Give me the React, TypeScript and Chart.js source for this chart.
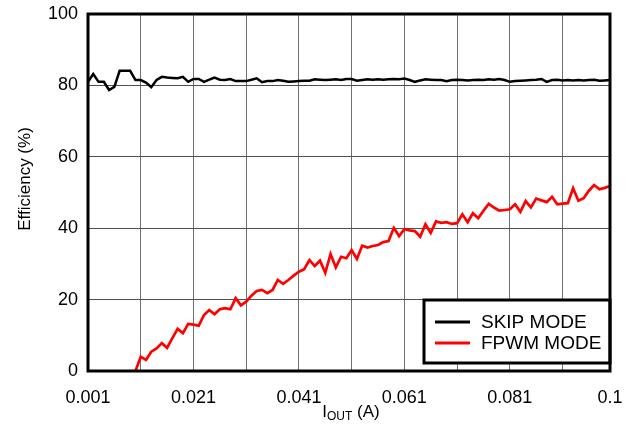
import React, { useEffect, useRef } from 'react';
import { Chart, registerables } from 'chart.js';

Chart.register(...registerables);

// Output current in mA (converted to A for the axis)
const currentMA = [
  1, 2, 3, 4, 5, 6, 7, 8, 9, 10,
  11, 12, 13, 14, 15, 16, 17, 18, 19, 20,
  21, 22, 23, 24, 25, 26, 27, 28, 29, 30,
  31, 32, 33, 34, 35, 36, 37, 38, 39, 40,
  41, 42, 43, 44, 45, 46, 47, 48, 49, 50,
  51, 52, 53, 54, 55, 56, 57, 58, 59, 60,
  61, 62, 63, 64, 65, 66, 67, 68, 69, 70,
  71, 72, 73, 74, 75, 76, 77, 78, 79, 80,
  81, 82, 83, 84, 85, 86, 87, 88, 89, 90,
  91, 92, 93, 94, 95, 96, 97, 98, 99, 100,
];

const skipMode = [
  81.0, 83.2, 81.0, 81.0, 78.7, 79.6, 84.1, 84.1, 84.1, 81.5,
  81.5, 80.8, 79.5, 81.5, 82.4, 82.2, 82.1, 82.0, 82.4, 81.0,
  81.8, 81.8, 81.0, 81.6, 82.2, 81.6, 81.5, 81.8, 81.2, 81.2,
  81.2, 81.6, 82.0, 80.9, 81.2, 81.2, 81.5, 81.3, 81.0, 81.1,
  81.2, 81.3, 81.3, 81.7, 81.6, 81.5, 81.6, 81.7, 81.5, 81.8,
  81.8, 81.3, 81.5, 81.7, 81.6, 81.7, 81.6, 81.7, 81.8, 81.7,
  81.9, 81.5, 81.0, 81.4, 81.7, 81.6, 81.5, 81.5, 81.2, 81.5,
  81.6, 81.5, 81.4, 81.5, 81.6, 81.5, 81.7, 81.6, 81.8, 81.5,
  81.0, 81.2, 81.3, 81.4, 81.5, 81.6, 81.8, 81.0, 81.5, 81.6,
  81.4, 81.5, 81.4, 81.5, 81.4, 81.5, 81.6, 81.3, 81.4, 81.5,
];

const fpwmMode: (number | null)[] = [
  null, null, null, null, null, null, null, null, null, 0.0,
  4.0, 3.1, 5.4, 6.3, 7.8, 6.5, 9.2, 11.8, 10.6, 13.2,
  13.0, 12.7, 15.7, 17.1, 15.9, 17.3, 17.6, 17.3, 20.4, 18.4,
  19.4, 21.1, 22.4, 22.7, 21.8, 22.7, 25.5, 24.4, 25.5, 26.7,
  27.8, 28.5, 31.1, 29.4, 30.9, 27.5, 32.8, 29.0, 32.0, 31.6,
  33.9, 31.4, 35.1, 34.6, 35.0, 35.3, 36.1, 36.4, 40.1, 37.8,
  39.7, 39.4, 39.2, 37.6, 41.1, 38.7, 41.9, 41.5, 41.7, 41.2,
  41.4, 43.9, 41.7, 44.2, 42.8, 44.9, 46.8, 45.8, 44.9, 45.1,
  45.3, 46.7, 44.6, 47.6, 45.8, 48.3, 47.8, 47.3, 48.8, 46.7,
  46.9, 47.0, 51.2, 47.7, 48.4, 50.5, 52.1, 50.9, 51.3, 51.8,
];

const xGridValues = [0.001, 0.011, 0.021, 0.031, 0.041, 0.051, 0.061, 0.071, 0.081, 0.091, 0.1];
const xTickLabels = ['0.001', '0.021', '0.041', '0.061', '0.081', '0.1'];
const yTickValues = [0, 20, 40, 60, 80, 100];

const seriesNames = ['SKIP MODE', 'FPWM MODE'];
const seriesColors = ['#000000', '#ff0000'];

const FONT = "'Liberation Sans', Arial, sans-serif";

const overlayPlugin = {
  id: 'overlay',
  afterDraw(chart: any) {
    const { ctx, chartArea } = chart;
    const { left, right, top, bottom } = chartArea;
    ctx.save();
    // legend box
    const lx = 424, ly = 300, lw = right - 424, lh = 63;
    ctx.fillStyle = '#fff';
    ctx.fillRect(lx, ly, lw, lh);
    ctx.strokeStyle = '#000';
    ctx.lineWidth = 3;
    ctx.strokeRect(lx, ly, lw, lh);
    ctx.font = `19px ${FONT}`;
    ctx.textBaseline = 'middle';
    ctx.textAlign = 'left';
    const rows = [322, 343];
    seriesNames.forEach((name, i) => {
      ctx.strokeStyle = seriesColors[i];
      ctx.lineWidth = 3;
      ctx.beginPath();
      ctx.moveTo(435, rows[i]);
      ctx.lineTo(470, rows[i]);
      ctx.stroke();
      ctx.fillStyle = '#000';
      ctx.fillText(name, 481, rows[i] + 1);
    });
    // frame
    ctx.strokeStyle = '#000';
    ctx.lineWidth = 3;
    ctx.strokeRect(left, top, right - left, bottom - top);
    // y title
    ctx.fillStyle = '#000';
    ctx.save();
    ctx.translate(25, 179);
    ctx.rotate(-Math.PI / 2);
    ctx.font = `17px ${FONT}`;
    ctx.textAlign = 'center';
    ctx.textBaseline = 'middle';
    ctx.fillText('Efficiency (%)', 0, 0);
    ctx.restore();
    // x title with subscript
    const big = `17px ${FONT}`;
    const small = `12px ${FONT}`;
    ctx.textBaseline = 'alphabetic';
    ctx.textAlign = 'left';
    ctx.font = big;
    const wI = ctx.measureText('I').width;
    const wRest = ctx.measureText(' (A)').width;
    ctx.font = small;
    const wSub = ctx.measureText('OUT').width;
    const total = wI + wSub + wRest;
    let x = (left + right) / 2 - total / 2 + 2;
    const base = 417;
    ctx.font = big;
    ctx.fillText('I', x, base);
    x += wI;
    ctx.font = small;
    ctx.fillText('OUT', x, base + 3);
    x += wSub;
    ctx.font = big;
    ctx.fillText(' (A)', x, base);
    ctx.restore();
  },
};

export default function App() {
  const canvasRef = useRef<HTMLCanvasElement>(null);

  useEffect(() => {
    const canvas = canvasRef.current;
    if (!canvas) return;
    const toA = (m: number) => m / 1000;
    const chart = new Chart(canvas, {
      type: 'line',
      data: {
        datasets: [
          {
            label: seriesNames[0],
            data: currentMA.map((m, i) => ({ x: toA(m), y: skipMode[i] })),
            borderColor: seriesColors[0],
            borderWidth: 2.5,
            pointRadius: 0,
            tension: 0,
          },
          {
            label: seriesNames[1],
            data: currentMA
              .map((m, i) => ({ x: toA(m), y: fpwmMode[i] }))
              .filter((p) => p.y !== null) as any,
            borderColor: seriesColors[1],
            borderWidth: 2.7,
            pointRadius: 0,
            tension: 0,
          },
        ],
      },
      options: {
        animation: false,
        responsive: false,
        maintainAspectRatio: false,
        layout: { autoPadding: false, padding: { top: 14, right: 24, left: 0, bottom: 0 } },
        plugins: {
          legend: { display: false },
          tooltip: { enabled: false },
        },
        scales: {
          x: {
            type: 'linear',
            min: 0.001,
            max: 0.1,
            afterBuildTicks: (scale: any) => {
              scale.ticks = xGridValues.map((v) => ({ value: v }));
            },
            afterFit: (scale: any) => {
              scale.height = 56;
              scale.paddingLeft = 0;
              scale.paddingRight = 0;
              scale.paddingTop = 0;
              scale.paddingBottom = 0;
            },
            ticks: {
              autoSkip: false,
              maxRotation: 0,
              padding: 16,
              color: '#000',
              font: { family: FONT, size: 18 },
              callback: (v: any) => {
                const s = xTickLabels.find((l) => Math.abs(parseFloat(l) - Number(v)) < 1e-9);
                return s ?? '';
              },
            },
            grid: { color: '#707070', lineWidth: 1, drawTicks: false },
            border: { display: false },
          },
          y: {
            min: 0,
            max: 100,
            afterBuildTicks: (scale: any) => {
              scale.ticks = yTickValues.map((v) => ({ value: v }));
            },
            afterFit: (scale: any) => {
              scale.width = 88;
              scale.paddingLeft = 0;
              scale.paddingRight = 0;
              scale.paddingTop = 0;
              scale.paddingBottom = 0;
            },
            ticks: {
              padding: 10,
              color: '#000',
              font: { family: FONT, size: 18 },
            },
            grid: { color: '#505050', lineWidth: 1, drawTicks: false },
            border: { display: false },
          },
        },
      },
      plugins: [overlayPlugin],
    } as any);
    return () => chart.destroy();
  }, []);

  return (
    <div style={{ position: 'fixed', left: 0, top: 0, width: 634, height: 427, background: '#fff' }}>
      <canvas ref={canvasRef} width={634} height={427} style={{ width: 634, height: 427, display: 'block' }} />
    </div>
  );
}
